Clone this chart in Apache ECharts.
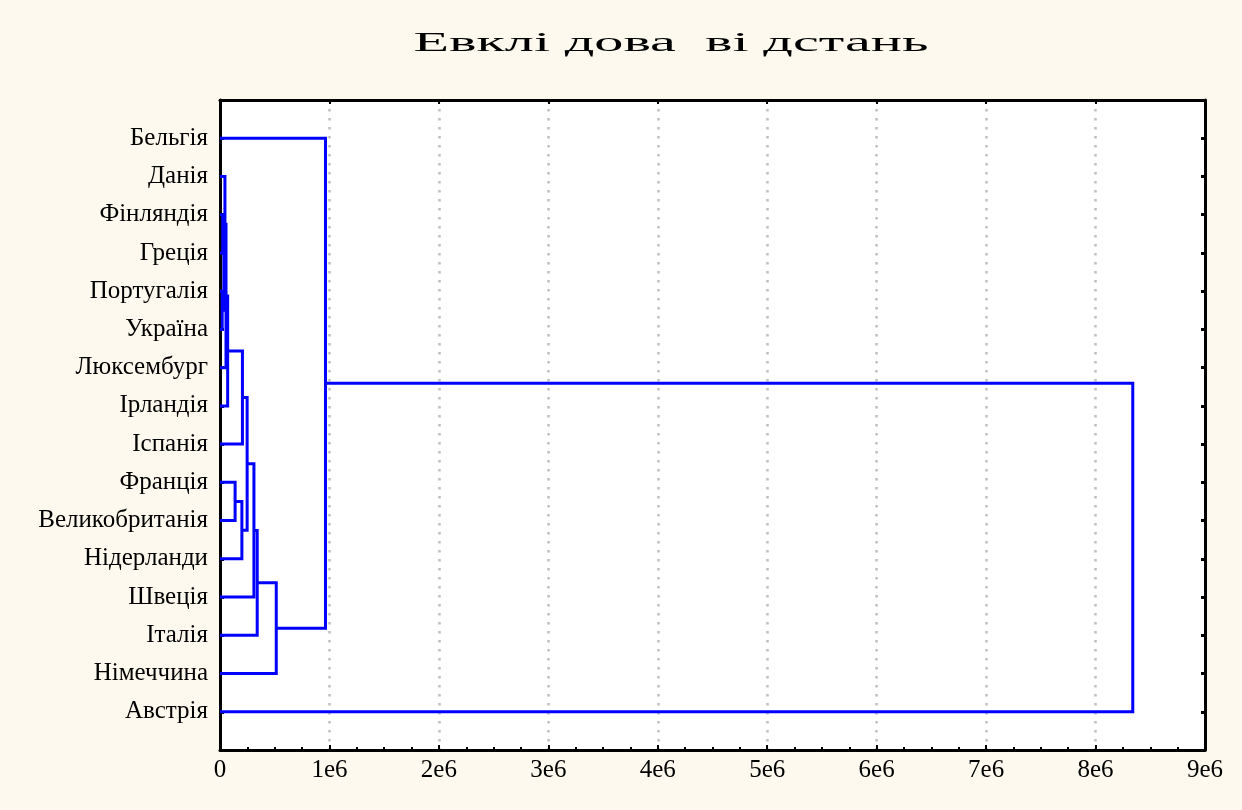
<!DOCTYPE html>
<html>
<head>
<meta charset="utf-8">
<script src="https://cdn.jsdelivr.net/npm/echarts@6/dist/echarts.min.js"></script>
<style>
html,body{margin:0;padding:0;background:#fdf9ee;}
#c{width:1242px;height:810px;}
</style>
</head>
<body>
<div id="c"></div>
<script>
const titleText = 'Евклі дова  ві дстань';
const leaves = ['Бельгія','Данія','Фінляндія','Греція','Португалія','Україна','Люксембург','Ірландія','Іспанія','Франція','Великобританія','Нідерланди','Швеція','Італія','Німеччина','Австрія'];
// linkage: node ids 0..15 are leaves, 16+ are merged clusters in order
const mergeA = [2, 4, 16, 1, 19, 20, 9, 22, 21, 24, 25, 26, 27, 0, 29];
const mergeB = [3, 5, 17, 18, 6, 7, 10, 11, 8, 23, 12, 13, 14, 28, 15];
const mergeHeight = [25000, 20000, 35000, 45000, 55000, 70000, 138000, 200000, 205000, 248000, 310000, 340000, 514000, 964000, 8340000];
const xTickLabels = ['0','1e6','2e6','3e6','4e6','5e6','6e6','7e6','8e6','9e6'];

// compute node positions (y = leaf slot, x = merge height)
const nodeY = leaves.map((_, i) => i + 1);
const nodeH = leaves.map(() => 0);
const segs = [];
for (let k = 0; k < mergeA.length; k++) {
  const a = mergeA[k], b = mergeB[k], h = mergeHeight[k];
  segs.push([nodeH[a], nodeY[a], h, nodeH[b], nodeY[b]]);
  nodeY.push((nodeY[a] + nodeY[b]) / 2);
  nodeH.push(h);
}

const chart = echarts.init(document.getElementById('c'));
const serif = '"Liberation Serif", "DejaVu Serif", serif';
chart.setOption({
  backgroundColor: '#fdf9ee',
  animation: false,
  graphic: [{
    type: 'text', x: 671, y: 44, scaleX: 2.08, scaleY: 1,
    style: { text: titleText, font: '28px ' + serif, fill: '#000', textAlign: 'center', textVerticalAlign: 'middle' }
  }],
  grid: { left: 220, right: 37, top: 100, bottom: 60, show: true, backgroundColor: '#ffffff', borderWidth: 0 },
  xAxis: [{
    type: 'value', min: 0, max: 9000000, interval: 1000000, position: 'bottom',
    axisLine: { show: true, onZero: false, lineStyle: { color: '#000', width: 3 } },
    axisTick: { show: true, inside: true, length: 5, lineStyle: { color: '#000', width: 2 } },
    minorTick: { show: true, splitNumber: 4, length: 3, lineStyle: { color: '#000', width: 2 } },
    axisLabel: { margin: 8, fontFamily: serif, fontSize: 25, color: '#000', formatter: (v, i) => xTickLabels[i] },
    splitLine: { show: true, lineStyle: { color: '#c0c0c0', width: 2.5, type: [2.5, 6.5] } }
  }, {
    type: 'value', min: 0, max: 9000000, interval: 1000000, position: 'top',
    axisLine: { show: true, onZero: false, lineStyle: { color: '#000', width: 3 } },
    axisTick: { show: true, inside: true, length: 4, lineStyle: { color: '#000', width: 2 } },
    axisLabel: { show: false }, splitLine: { show: false }
  }],
  yAxis: [{
    type: 'value', min: 0, max: 17, interval: 1, inverse: true, position: 'left', z: 3,
    axisLine: { show: true, onZero: false, lineStyle: { color: '#000', width: 3 } },
    axisTick: { show: true, inside: true, length: 4, lineStyle: { color: '#000', width: 3 } },
    axisLabel: { margin: 12, fontFamily: serif, fontSize: 25, color: '#000', formatter: v => leaves[v - 1] || '' },
    splitLine: { show: false }
  }, {
    type: 'value', min: 0, max: 17, interval: 1, inverse: true, position: 'right', z: 3,
    axisLine: { show: true, onZero: false, lineStyle: { color: '#000', width: 3 } },
    axisTick: { show: true, inside: true, length: 4, lineStyle: { color: '#000', width: 3 } },
    axisLabel: { show: false }, splitLine: { show: false }
  }],
  series: [{
    type: 'custom',
    xAxisIndex: 0, yAxisIndex: 0,
    z: 5,
    clip: false,
    data: segs,
    renderItem: function (params, api) {
      const p1 = api.coord([api.value(0), api.value(1)]);
      const p2 = api.coord([api.value(2), api.value(1)]);
      const p3 = api.coord([api.value(2), api.value(4)]);
      const p4 = api.coord([api.value(3), api.value(4)]);
      return {
        type: 'polyline',
        shape: { points: [p1, p2, p3, p4] },
        style: { stroke: '#0000ff', lineWidth: 3, fill: null }
      };
    },
    encode: { x: [0, 2, 3], y: [1, 4] }
  }]
});
</script>
</body>
</html>
